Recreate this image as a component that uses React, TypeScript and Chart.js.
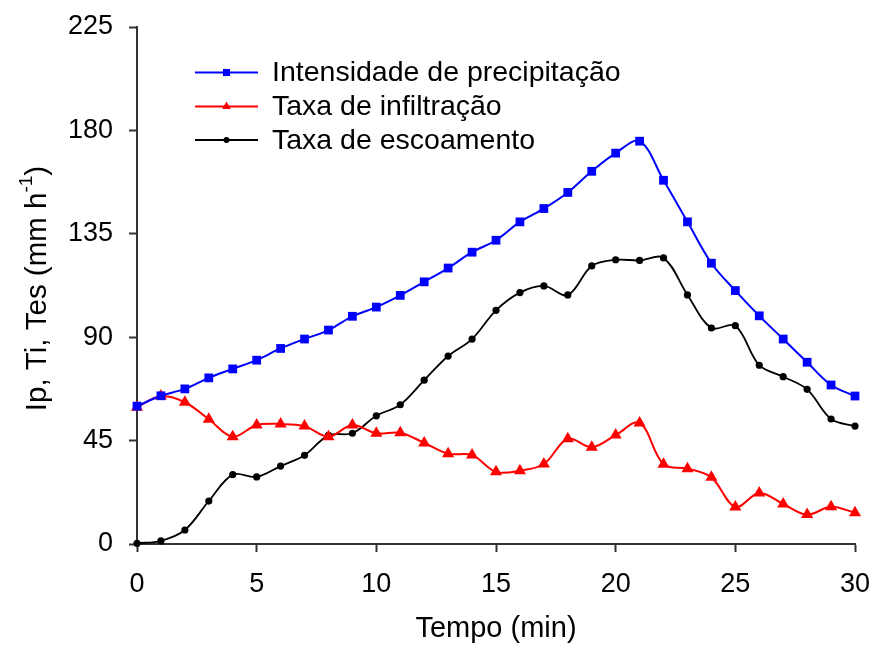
import React, { useEffect, useRef } from 'react';
import { Chart, registerables } from 'chart.js';

Chart.register(...registerables);

const minutes = [0, 1, 2, 3, 4, 5, 6, 7, 8, 9, 10, 11, 12, 13, 14, 15, 16, 17, 18, 19, 20, 21, 22, 23, 24, 25, 26, 27, 28, 29, 30];
const intensidade = [60, 64.5, 67.5, 72.3, 76.2, 80, 85.1, 89.2, 93.1, 99.1, 103.1, 108.2, 114.1, 120.1, 127, 132.2, 140.2, 146, 153, 162.2, 170.1, 175.3, 158.3, 140.2, 122.2, 110.3, 99.3, 89.2, 79.1, 69.2, 64.4];
const infiltracao = [59.5, 64.4, 61.7, 54.3, 46.7, 51.8, 52.2, 51.3, 46.7, 51.8, 48.2, 48.4, 44, 39.3, 38.7, 31.4, 31.9, 34.8, 45.8, 42.1, 47.4, 52.7, 34.7, 32.8, 29, 16.1, 22.2, 17.4, 12.8, 16.2, 13.6];
const escoamento = [0.3, 1.4, 6.1, 18.7, 30.2, 29.2, 33.9, 38.6, 47.3, 48.2, 55.8, 60.6, 71.3, 81.8, 89.2, 101.7, 109.4, 112.3, 108.4, 121, 123.7, 123.4, 124.5, 108.4, 94, 95, 77.8, 72.8, 67.3, 54.4, 51.3];
const seriesNames = ['Intensidade de precipitação', 'Taxa de infiltração', 'Taxa de escoamento'];
const yTicks = [0, 45, 90, 135, 180, 225];
const xTicks = [0, 5, 10, 15, 20, 25, 30];
const xTitle = 'Tempo (min)';
const yTitleMain = 'Ip, Ti, Tes (mm h';
const yTitleSup = '-1';
const yTitleEnd = ')';

const FONT = "'Liberation Sans', Arial, sans-serif";

const toPoints = (vals: number[]) => minutes.map((m, i) => ({ x: m, y: vals[i] }));

function drawMarker(ctx: CanvasRenderingContext2D, style: string, x: number, y: number, r: number, color: string) {
  ctx.save();
  ctx.fillStyle = color;
  ctx.beginPath();
  if (style === 'rect') {
    const s = Math.SQRT1_2 * r;
    ctx.rect(x - s, y - s, 2 * s, 2 * s);
  } else if (style === 'triangle') {
    ctx.moveTo(x, y - r);
    ctx.lineTo(x + r * Math.sin(Math.PI / 3), y + r / 2);
    ctx.lineTo(x - r * Math.sin(Math.PI / 3), y + r / 2);
    ctx.closePath();
  } else {
    ctx.arc(x, y, r, 0, Math.PI * 2);
  }
  ctx.fill();
  ctx.restore();
}

const customDraw = {
  id: 'customDraw',
  afterDatasetsDraw(chart: any) {
    const ctx: CanvasRenderingContext2D = chart.ctx;
    // legend
    const rows = [72.5, 106.5, 140];
    chart.data.datasets.forEach((ds: any, i: number) => {
      const y = rows[i];
      ctx.save();
      ctx.strokeStyle = ds.borderColor;
      ctx.lineWidth = ds.borderWidth;
      ctx.beginPath();
      ctx.moveTo(195, y);
      ctx.lineTo(258, y);
      ctx.stroke();
      ctx.restore();
      drawMarker(ctx, ds.pointStyle, 226.5, y, ds.pointStyle === 'circle' ? 3 : 5, ds.borderColor);
      ctx.save();
      ctx.fillStyle = '#000';
      ctx.font = `28.5px ${FONT}`;
      ctx.textAlign = 'left';
      ctx.textBaseline = 'middle';
      ctx.fillText(ds.label, 272, y + 1);
      ctx.restore();
    });
    // y axis title with superscript
    const area = chart.chartArea;
    const cy = (area.top + area.bottom) / 2 + 3;
    ctx.save();
    ctx.translate(38, cy);
    ctx.rotate(-Math.PI / 2);
    ctx.fillStyle = '#000';
    ctx.textBaseline = 'middle';
    ctx.textAlign = 'left';
    ctx.font = `29.5px ${FONT}`;
    const w1 = ctx.measureText(yTitleMain).width;
    const w3 = ctx.measureText(yTitleEnd).width;
    ctx.font = `19px ${FONT}`;
    const w2 = ctx.measureText(yTitleSup).width;
    const total = w1 + w2 + w3;
    let x = -total / 2;
    ctx.font = `29.5px ${FONT}`;
    ctx.fillText(yTitleMain, x, 0);
    x += w1;
    ctx.font = `19px ${FONT}`;
    ctx.fillText(yTitleSup, x, -11);
    x += w2;
    ctx.font = `29.5px ${FONT}`;
    ctx.fillText(yTitleEnd, x, 0);
    ctx.restore();
  },
};

export default function App() {
  const ref = useRef<HTMLCanvasElement | null>(null);
  useEffect(() => {
    if (!ref.current) return;
    const common = { fill: false, clip: false, tension: 0.35 };
    const chart = new Chart(ref.current, {
      type: 'line',
      data: {
        datasets: [
          {
            ...common,
            label: seriesNames[0],
            data: toPoints(intensidade),
            borderColor: '#0000FF',
            backgroundColor: '#0000FF',
            borderWidth: 2,
            pointStyle: 'rect',
            pointRadius: 6.2,
            pointBorderWidth: 0,
            pointBackgroundColor: '#0000FF',
          },
          {
            ...common,
            label: seriesNames[1],
            data: toPoints(infiltracao),
            borderColor: '#FF0000',
            backgroundColor: '#FF0000',
            borderWidth: 2,
            pointStyle: 'triangle',
            pointRadius: 7,
            pointBorderWidth: 0,
            pointBackgroundColor: '#FF0000',
          },
          {
            ...common,
            label: seriesNames[2],
            data: toPoints(escoamento),
            borderColor: '#000000',
            backgroundColor: '#000000',
            borderWidth: 1.8,
            pointStyle: 'circle',
            pointRadius: 3.6,
            pointBorderWidth: 0,
            pointBackgroundColor: '#000000',
          },
        ],
      } as any,
      options: {
        animation: false,
        responsive: false,
        maintainAspectRatio: false,
        layout: { padding: { top: 27, right: 17, left: 0, bottom: 0 } },
        plugins: { legend: { display: false }, tooltip: { enabled: false } },
        scales: {
          x: {
            type: 'linear',
            min: 0,
            max: 30,
            afterFit: (s: any) => { s.height = 102; s.paddingLeft = 0; s.paddingRight = 0; },
            afterBuildTicks: (s: any) => { s.ticks = xTicks.map((v) => ({ value: v })); },
            ticks: { color: '#000', font: { family: FONT, size: 27 }, padding: 16, maxRotation: 0 },
            grid: { drawOnChartArea: false, drawTicks: true, tickLength: 8, tickColor: '#333', tickWidth: 2 },
            border: { color: '#333', width: 2 },
            title: { display: true, text: xTitle, color: '#000', font: { family: FONT, size: 29 }, padding: { top: 0, bottom: 0 } },
          },
          y: {
            type: 'linear',
            min: 0,
            max: 225,
            afterFit: (s: any) => { s.width = 137; s.paddingTop = 0; s.paddingBottom = 0; },
            afterBuildTicks: (s: any) => { s.ticks = yTicks.map((v) => ({ value: v })); },
            ticks: { color: '#000', font: { family: FONT, size: 27 }, padding: 16 },
            grid: { drawOnChartArea: false, drawTicks: true, tickLength: 8, tickColor: '#333', tickWidth: 2 },
            border: { color: '#333', width: 2 },
          },
        },
      } as any,
      plugins: [customDraw],
    });
    return () => chart.destroy();
  }, []);
  return (
    <div style={{ position: 'fixed', left: 0, top: 0, width: 872, height: 646, background: '#fff' }}>
      <canvas ref={ref} width={872} height={646} style={{ display: 'block' }} />
    </div>
  );
}
